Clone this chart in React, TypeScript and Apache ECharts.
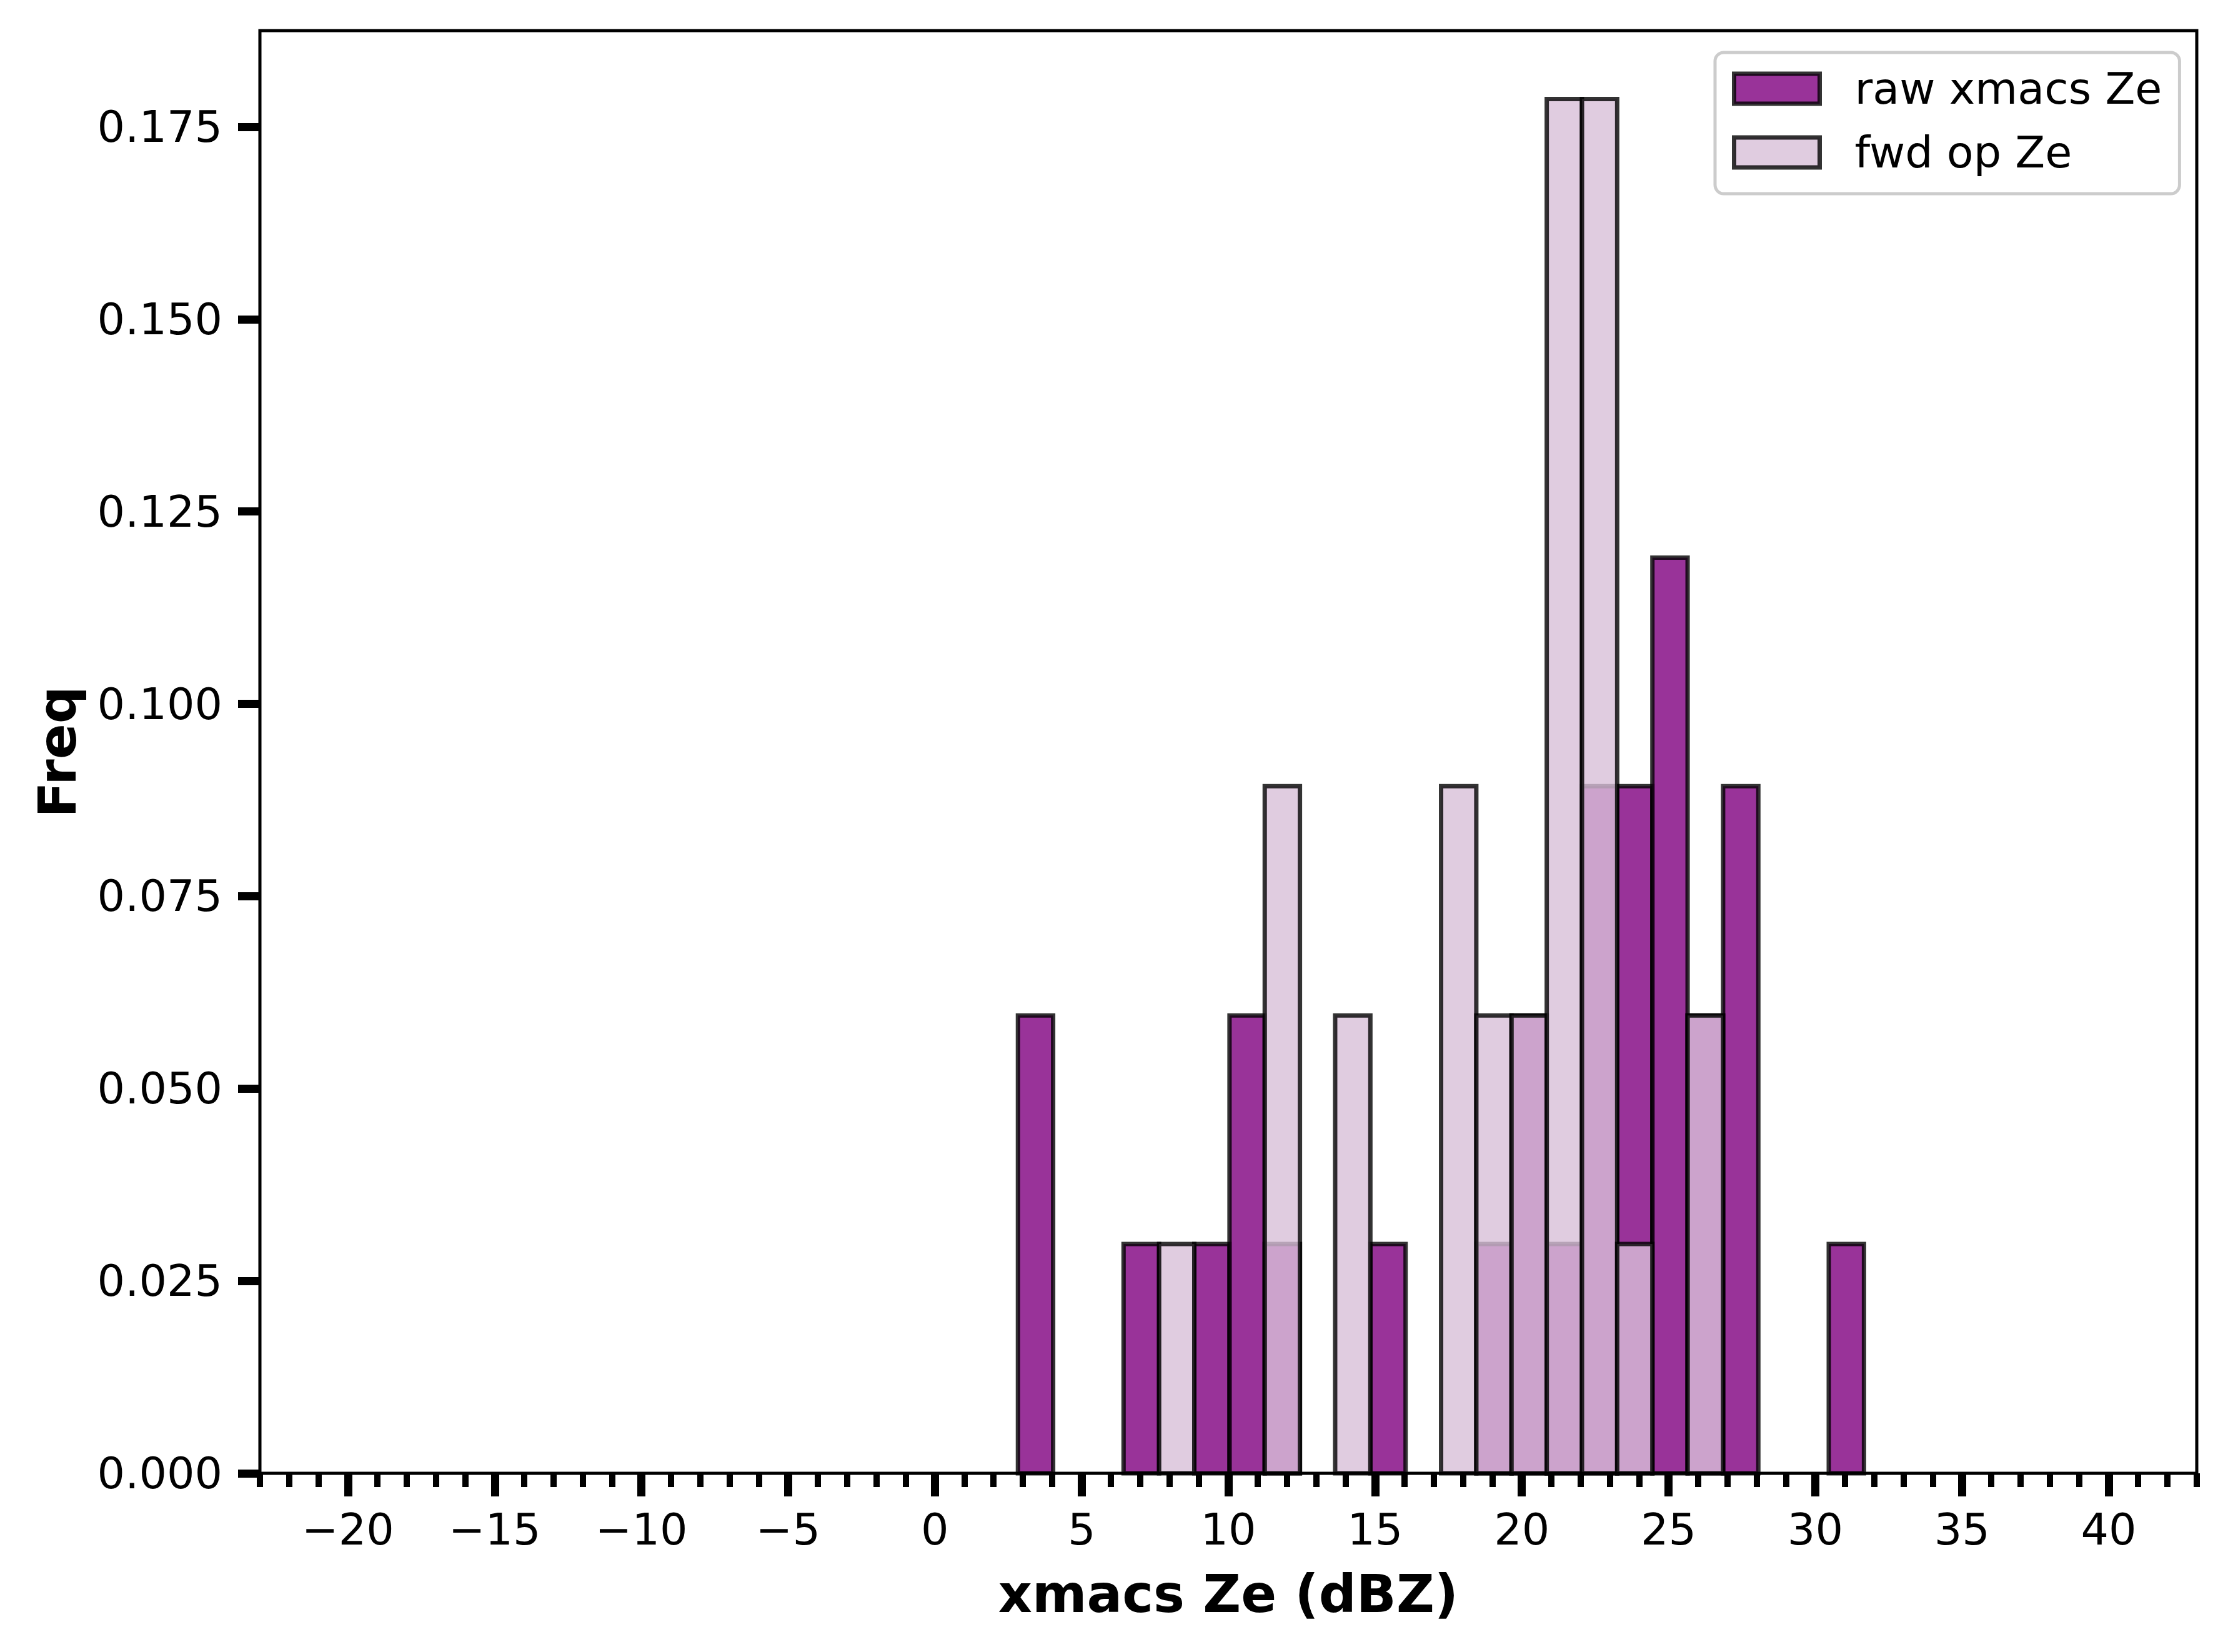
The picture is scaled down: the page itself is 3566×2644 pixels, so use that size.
import React, { useEffect, useRef } from "react";
import * as echarts from "echarts";

// Histogram bin edges (xmacs Ze, dBZ)
const binEdges = [
  2.83, 4.03, 5.23, 6.43, 7.64, 8.84, 10.04, 11.24, 12.44, 13.64, 14.84, 16.04,
  17.25, 18.45, 19.65, 20.85, 22.05, 23.25, 24.45, 25.65, 26.86, 28.06, 29.26,
  30.46, 31.66,
];

// Density per bin
const rawFreq = [
  0.0595, 0, 0, 0.0298, 0, 0.0298, 0.0595, 0.0298, 0, 0, 0.0298, 0, 0, 0.0298,
  0.0595, 0.0298, 0.0893, 0.0893, 0.119, 0.0595, 0.0893, 0, 0, 0.0298,
];
const fwdFreq = [
  0, 0, 0, 0, 0.0298, 0, 0, 0.0893, 0, 0.0595, 0, 0, 0.0893, 0.0595, 0.0595,
  0.1786, 0.1786, 0.0298, 0, 0.0595, 0, 0, 0, 0,
];

const seriesNames = ["raw xmacs Ze", "fwd op Ze"];
const xMajorTicks = [-20, -15, -10, -5, 0, 5, 10, 15, 20, 25, 30, 35, 40];
const xMinorTicks = [
  -23, -22, -21, -20, -19, -18, -17, -16, -15, -14, -13, -12, -11, -10, -9, -8,
  -7, -6, -5, -4, -3, -2, -1, 0, 1, 2, 3, 4, 5, 6, 7, 8, 9, 10, 11, 12, 13, 14,
  15, 16, 17, 18, 19, 20, 21, 22, 23, 24, 25, 26, 27, 28, 29, 30, 31, 32, 33,
  34, 35, 36, 37, 38, 39, 40, 41, 42, 43,
];
const yTicks = [0, 0.025, 0.05, 0.075, 0.1, 0.125, 0.15, 0.175];
const xRange = [-23, 43];
const yRange = [0, 0.1875];

const FONT = "DejaVu Sans";
const RAW_FILL = "rgba(128,0,128,0.8)";
const FWD_FILL = "rgba(216,191,216,0.8)";
const EDGE = "rgba(0,0,0,0.8)";

function barsData(freq: number[]) {
  const out: number[][] = [];
  freq.forEach((f, i) => {
    if (f > 0) out.push([binEdges[i], binEdges[i + 1], f]);
  });
  return out;
}

function makeRender(fill: string) {
  return (params: any, api: any) => {
    const p0 = api.coord([api.value(0), api.value(2)]);
    const p1 = api.coord([api.value(1), 0]);
    return {
      type: "rect",
      shape: { x: p0[0], y: p0[1], width: p1[0] - p0[0], height: p1[1] - p0[1] },
      style: { fill, stroke: EDGE, lineWidth: 7 },
    };
  };
}

export default function App() {
  const ref = useRef<HTMLDivElement>(null);
  useEffect(() => {
    if (!ref.current) return;
    const chart = echarts.init(ref.current, null, { renderer: "svg" });
    const labelStyle = { fontFamily: FONT, fontSize: 70, color: "#000" };
    chart.setOption({
      animation: false,
      backgroundColor: "#fff",
      grid: {
        left: 416,
        top: 49,
        width: 3100,
        height: 2309,
        show: true,
        borderColor: "#000",
        borderWidth: 5,
        z: 10,
      },
      legend: {
        orient: "vertical",
        left: 2745,
        top: 84,
        padding: [23, 28, 31, 27],
        itemWidth: 137,
        itemHeight: 48,
        itemGap: 32,
        icon: "rect",
        backgroundColor: "rgba(255,255,255,0.8)",
        borderColor: "#cccccc",
        borderWidth: 5,
        borderRadius: 14,
        textStyle: { ...labelStyle, lineHeight: 48, padding: [0, 0, 0, 51] },
        data: [
          { name: seriesNames[0], itemStyle: { color: RAW_FILL, borderColor: EDGE, borderWidth: 7 } },
          { name: seriesNames[1], itemStyle: { color: FWD_FILL, borderColor: EDGE, borderWidth: 7 } },
        ],
      },
      xAxis: [
        {
          type: "value",
          min: xRange[0],
          max: xRange[1],
          position: "bottom",
          z: 11,
          axisLine: { show: false, onZero: false },
          splitLine: { show: false },
          axisTick: {
            show: true,
            customValues: xMajorTicks,
            length: 37,
            lineStyle: { color: "#000", width: 13 },
          },
          axisLabel: {
            show: true,
            customValues: xMajorTicks,
            margin: 55,
            ...labelStyle,
            formatter: (v: number) => (v < 0 ? "\u2212" + Math.abs(v) : String(v)),
          },
          name: "xmacs Ze (dBZ)",
          nameLocation: "middle",
          nameGap: 151,
          nameTextStyle: { fontFamily: FONT, fontSize: 84, fontWeight: "bold", color: "#000" },
        },
        {
          type: "value",
          min: xRange[0],
          max: xRange[1],
          position: "bottom",
          z: 11,
          axisLine: { show: false, onZero: false },
          splitLine: { show: false },
          axisTick: {
            show: true,
            customValues: xMinorTicks,
            length: 22,
            lineStyle: { color: "#000", width: 10 },
          },
          axisLabel: { show: false },
        },
      ],
      yAxis: {
        type: "value",
        min: yRange[0],
        max: yRange[1],
        position: "left",
        z: 11,
        axisLine: { show: false, onZero: false },
        splitLine: { show: false },
        axisTick: {
          show: true,
          customValues: yTicks,
          length: 35,
          lineStyle: { color: "#000", width: 13 },
        },
        axisLabel: {
          show: true,
          customValues: yTicks,
          margin: 60,
          ...labelStyle,
          formatter: (v: number) => v.toFixed(3),
        },
        name: "Freq",
        nameLocation: "middle",
        nameRotate: 90,
        nameGap: 282,
        nameTextStyle: { fontFamily: FONT, fontSize: 84, fontWeight: "bold", color: "#000" },
      },
      series: [
        {
          name: seriesNames[0],
          type: "custom",
          xAxisIndex: 0,
          renderItem: makeRender(RAW_FILL),
          itemStyle: { color: RAW_FILL, borderColor: EDGE, borderWidth: 7 },
          encode: { x: [0, 1], y: 2 },
          data: barsData(rawFreq),
          z: 2,
        },
        {
          name: seriesNames[1],
          type: "custom",
          xAxisIndex: 0,
          renderItem: makeRender(FWD_FILL),
          itemStyle: { color: FWD_FILL, borderColor: EDGE, borderWidth: 7 },
          encode: { x: [0, 1], y: 2 },
          data: barsData(fwdFreq),
          z: 3,
        },
      ],
    });
    return () => chart.dispose();
  }, []);
  return (
    <div
      ref={ref}
      style={{ position: "absolute", left: 0, top: 0, width: 3566, height: 2644 }}
    />
  );
}
